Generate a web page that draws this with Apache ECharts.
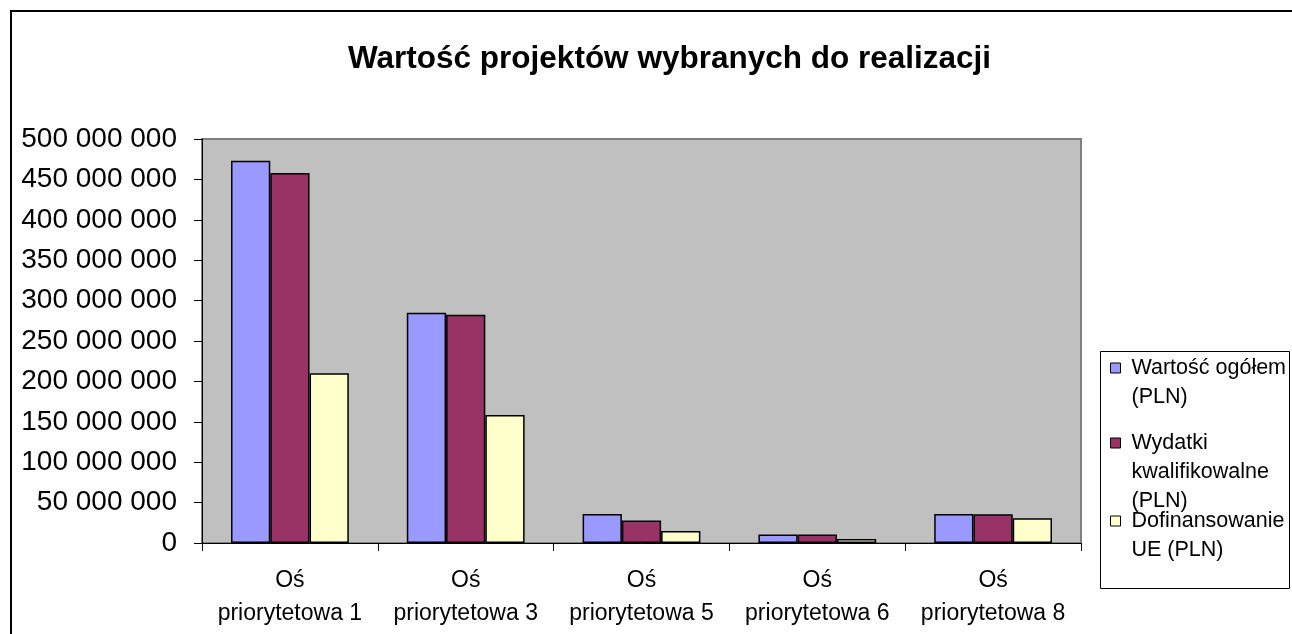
<!DOCTYPE html>
<html>
<head>
<meta charset="utf-8">
<script src="https://cdn.jsdelivr.net/npm/echarts@6/dist/echarts.min.js"></script>
<style>
html,body{margin:0;padding:0;background:#fff;}
#chart{width:1292px;height:634px;}
</style>
</head>
<body>
<div id="chart"></div>
<script>
const titleText = 'Wartość projektów wybranych do realizacji';
const categories = ['Oś priorytetowa 1', 'Oś priorytetowa 3', 'Oś priorytetowa 5', 'Oś priorytetowa 6', 'Oś priorytetowa 8'];
const seriesNames = ['Wartość ogółem (PLN)', 'Wydatki kwalifikowalne (PLN)', 'Dofinansowanie UE (PLN)'];
const legendLabels = ['Wartość ogółem\n(PLN)', 'Wydatki\nkwalifikowalne\n(PLN)', 'Dofinansowanie\nUE (PLN)'];
const wartoscOgolem = [473000000, 285000000, 36000000, 10500000, 36000000];
const wydatkiKwalifikowalne = [458000000, 282500000, 28000000, 10500000, 35500000];
const dofinansowanieUE = [210000000, 158500000, 15000000, 5000000, 30500000];
const yTicks = { min: 0, max: 500000000, interval: 50000000 };

const colors = ['#9999FF', '#993366', '#FFFFCC'];
const FONT = "'Liberation Sans', Arial, sans-serif";
const values = [wartoscOgolem, wydatkiKwalifikowalne, dofinansowanieUE];

function fmt(v) { return String(v).replace(/\B(?=(\d{3})+(?!\d))/g, ' '); }

const chart = echarts.init(document.getElementById('chart'));

const LH = 29;
const iconCenters = [368, 443, 521];
const legends = seriesNames.map((name, i) => {
  const lines = legendLabels[i].split('\n');
  const spacer = (lines.length - 1) * LH;
  const total = spacer + lines.length * LH;
  const text = '{e| }\n' + lines.map(l => '{t|' + l + '}').join('\n');
  return {
    orient: 'vertical',
    left: 1110,
    top: iconCenters[i] - total / 2,
    padding: 0,
    itemWidth: 10,
    itemHeight: 10,
    icon: 'rect',
    selectedMode: false,
    data: [{ name: name, itemStyle: { borderColor: '#000', borderWidth: 1 } }],
    formatter: () => text,
    textStyle: {
      fontFamily: FONT, fontSize: 21.5, color: '#000',
      padding: [0, 0, 0, 6],
      rich: {
        e: { fontSize: 1, lineHeight: spacer, height: spacer },
        t: { fontFamily: FONT, fontSize: 21.5, color: '#000', lineHeight: LH, height: LH }
      }
    }
  };
});

chart.setOption({
  animation: false,
  backgroundColor: '#fff',
  title: {
    text: titleText,
    left: 343,
    top: 38,
    textStyle: { fontFamily: FONT, fontSize: 31.5, fontWeight: 'bold', color: '#000' }
  },
  graphic: [
    { type: 'rect', z: -10, shape: { x: 11, y: 11, width: 1300, height: 700 },
      style: { fill: 'none', stroke: '#000', lineWidth: 2 } },
    { type: 'rect', z: 0, shape: { x: 1100.5, y: 351.5, width: 189, height: 237 },
      style: { fill: '#fff', stroke: '#000', lineWidth: 1 } }
  ],
  legend: legends,
  grid: {
    left: 202, right: 211, top: 139, bottom: 91,
    show: true, backgroundColor: '#C0C0C0', borderColor: '#808080', borderWidth: 2
  },
  xAxis: {
    type: 'category',
    data: categories,
    axisLine: { lineStyle: { color: '#000', width: 1 } },
    axisTick: { show: true, length: 8, lineStyle: { color: '#000' } },
    axisLabel: {
      fontFamily: FONT, fontSize: 23, color: '#000', lineHeight: 33, margin: 21,
      interval: 0, formatter: v => v.replace(' ', '\n')
    }
  },
  yAxis: {
    type: 'value',
    min: yTicks.min, max: yTicks.max, interval: yTicks.interval,
    axisLine: { show: true, lineStyle: { color: '#000', width: 1 } },
    axisTick: { show: true, length: 8, lineStyle: { color: '#000' } },
    splitLine: { show: false },
    axisLabel: { fontFamily: FONT, fontSize: 28, color: '#000', margin: 25, formatter: fmt }
  },
  series: seriesNames.map((name, i) => ({
    name: name,
    type: 'bar',
    data: values[i],
    barGap: '0%',
    barCategoryGap: '33%',
    itemStyle: { color: colors[i], borderColor: '#000', borderWidth: 1.5 }
  }))
});
</script>
</body>
</html>
